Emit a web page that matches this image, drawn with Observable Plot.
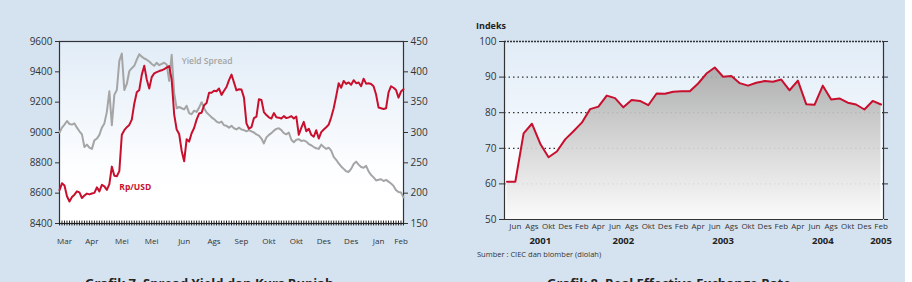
<!DOCTYPE html>
<html>
<head>
<meta charset="utf-8">
<script src="https://cdn.jsdelivr.net/npm/d3@7"></script>
<script src="https://cdn.jsdelivr.net/npm/@observablehq/plot@0.6"></script>
<style>
  html, body { margin: 0; padding: 0; background: #fff; }
  #page { position: relative; width: 912px; height: 282px; overflow: hidden; background: #fff; font-family: "Open Sans", sans-serif; }
  #panel { position: absolute; left: 0; top: 0; width: 905px; height: 282px; background: #d5e3f1; }
  #left { position: absolute; left: 0; top: 0; }
  #right { position: absolute; left: 460px; top: 0; }
  .t { position: absolute; white-space: nowrap; color: #222; line-height: 1; }
</style>
</head>
<body>
<div id="page">
  <div id="panel"></div>
  <div id="left"></div>
  <div id="right"></div>
  <div class="t" style="left:476px;top:21px;font-size:9px;font-weight:700;">Indeks</div>
  <div class="t" style="left:477px;top:251px;font-size:7.5px;color:#333;">Sumber : CIEC dan blomber (diolah)</div>
  <div class="t" style="left:85px;top:277px;font-size:13px;font-weight:700;">Grafik 7. Spread Yield dan Kurs Rupiah</div>
  <div class="t" style="left:547px;top:277px;font-size:13px;font-weight:700;">Grafik 8. Real Effective Exchange Rate</div>
</div>
<script>
// ---- Left chart: Rp/USD (left axis) and yield spread (right axis), trading days ----
const rupiah = [8620,8665,8650,8580,8545,8575,8590,8612,8605,8568,
  8585,8597,8592,8598,8602,8638,8612,8655,8645,8622,
  8660,8775,8715,8712,8745,8985,9015,9035,9050,9085,
  9190,9265,9280,9380,9440,9350,9290,9365,9390,9398,
  9405,9410,9418,9428,9438,9350,9120,9020,8990,8880,
  8810,8955,8940,8995,9030,9085,9125,9130,9180,9195,
  9262,9262,9275,9272,9290,9248,9275,9300,9345,9382,
  9330,9278,9285,9283,9230,9060,9025,9035,9095,9105,
  9220,9215,9135,9115,9100,9092,9128,9100,9098,9092,
  9108,9095,9100,9108,9092,9105,8985,9030,9070,9008,
  9025,8985,8972,9015,8960,9002,9020,9035,9052,9100,
  9160,9240,9325,9295,9340,9320,9330,9315,9345,9325,
  9330,9305,9355,9322,9325,9320,9305,9250,9165,9160,
  9155,9160,9265,9305,9295,9280,9230,9270,9285];

const yieldSpread = [300,308,313,319,314,313,315,308,302,297,
  276,280,275,273,287,290,296,308,315,334,
  368,312,362,370,418,430,370,380,401,406,
  410,420,429,425,422,420,417,413,410,415,
  411,413,415,412,385,428,365,340,342,340,
  338,344,332,330,336,334,341,350,340,333,
  329,325,322,318,316,318,312,311,308,311,
  307,305,308,305,304,302,304,302,300,297,
  295,290,282,292,296,299,303,306,307,304,
  299,297,300,288,284,288,289,286,287,285,
  281,279,276,274,273,280,276,273,275,270,
  260,255,249,244,240,236,235,240,248,252,
  247,243,242,245,236,230,226,221,222,223,
  220,222,219,216,212,205,202,201,193];

const dayMonthLabels = ["Mar","Apr","Mei","Mei","Jun","Ags","Sep","Okt","Okt","Des","Des","Jan","Feb"];
const dayMonthTicks = [2,13,25,37,50,62,73,84,95,106,117,128,137];
const rupiahTicks = [8400,8600,8800,9000,9200,9400,9600];
const spreadTicks = [150,200,250,300,350,400,450];

// spread is drawn on the rupiah scale: 150..450 maps onto 8400..9600
const toRupiah = v => 8400 + (v - 150) * 4;
const toSpread = r => (r - 8400) / 4 + 150;

const days = d3.range(rupiah.length);
const dayLabel = new Map(dayMonthTicks.map((t, i) => [t, dayMonthLabels[i]]));

const left = Plot.plot({
  width: 460, height: 282,
  marginLeft: 59, marginRight: 57, marginTop: 41, marginBottom: 59,
  x: {domain: [0, rupiah.length - 1]},
  y: {domain: [8400, 9600]},
  style: {background: "transparent", fontFamily: "Open Sans, sans-serif", color: "#333"},
  marks: [
    Plot.frame({fill: "url(#bgLeft)", stroke: "#333", strokeWidth: 1.2}),
    Plot.line(days, {x: d => d, y: d => toRupiah(yieldSpread[d]), stroke: "#a5a5a5", strokeWidth: 2}),
    Plot.line(days, {x: d => d, y: d => rupiah[d], stroke: "#c8102e", strokeWidth: 2}),
    Plot.ruleY([8400], {stroke: "#222", strokeWidth: 1}),
    Plot.ruleX(days, {x: d => d, y1: 8384, y2: 8416, stroke: "#222", strokeWidth: 1}),
    Plot.axisY({anchor: "left", ticks: rupiahTicks, tickFormat: d => String(d), tickSize: 4, tickPadding: 3, fontSize: 10, label: null}),
    Plot.axisY({anchor: "right", ticks: spreadTicks.map(toRupiah), tickFormat: d => String(toSpread(d)), tickSize: 4, tickPadding: 3, fontSize: 10, label: null}),
    Plot.axisX({ticks: dayMonthTicks, tickFormat: d => dayLabel.get(d), tickSize: 0, tickPadding: 15, fontSize: 8, label: null}),
    Plot.text(["Yield Spread"], {x: 49, y: toRupiah(417), text: d => d, textAnchor: "start", fill: "#a3a3a3", fontSize: 8.5, fontWeight: 600}),
    Plot.text(["Rp/USD"], {x: 24, y: 8638, text: d => d, textAnchor: "start", fill: "#c8102e", fontSize: 8.5, fontWeight: 700})
  ]
});
d3.select(left).insert("defs", ":first-child").html(
  `<linearGradient id="bgLeft" x1="0" y1="0" x2="0" y2="1">
     <stop offset="0" stop-color="#e1ecf7"/><stop offset="0.7" stop-color="#fdfeff"/><stop offset="1" stop-color="#ffffff"/>
   </linearGradient>`);
document.getElementById("left").appendChild(left);

// ---- Right chart: real effective exchange rate index, monthly May 2001 – Feb 2005 ----
const reer = [60.6,60.6,74.2,76.9,71.3,67.5,69.1,72.5,
  74.8,77.2,81.0,81.7,84.8,84.1,81.5,83.6,83.3,82.1,85.4,85.3,
  85.9,86.0,86.0,88.2,91.0,92.7,90.1,90.3,88.3,87.6,88.4,88.9,
  88.7,89.3,86.3,89.0,82.4,82.2,87.6,83.7,84.0,82.8,82.3,80.9,
  83.3,82.3];
const monthNames = ["Jun","Ags","Okt","Des","Feb","Apr","Jun","Ags","Okt","Des","Feb","Apr",
  "Jun","Ags","Okt","Des","Feb","Apr","Jun","Ags","Okt","Des","Feb"];
const monthTicks = monthNames.map((_, i) => 1 + 2 * i);
const yearNames = ["2001","2002","2003","2004","2005"];
const yearTicks = [4,14,26,38,45];
const indexTicks = [50,60,70,80,90,100];
const gridLevels = [60,70,80,90];

const months = d3.range(reer.length);
const monthLabel = new Map(monthTicks.map((t, i) => [t, monthNames[i]]));
const yearLabel = new Map(yearTicks.map((t, i) => [t, yearNames[i]]));

const right = Plot.plot({
  width: 452, height: 282,
  marginLeft: 44, marginRight: 29, marginTop: 41, marginBottom: 63,
  x: {domain: [-0.3, 45.3]},
  y: {domain: [50, 100]},
  style: {background: "transparent", fontFamily: "Open Sans, sans-serif", color: "#333"},
  marks: [
    Plot.frame({fill: "url(#bgRight)", stroke: null}),
    Plot.ruleY(gridLevels, {stroke: "#333", strokeWidth: 1.3, strokeDasharray: "1.5,3"}),
    Plot.areaY(months, {x: d => d, y1: 50, y2: d => reer[d], fill: "url(#areaRight)", fillOpacity: 0.92}),
    Plot.line(months, {x: d => d, y: d => reer[d], stroke: "#c8102e", strokeWidth: 2}),
    Plot.ruleY([100], {stroke: "#333", strokeWidth: 1.6, strokeDasharray: "2,1"}),
    Plot.ruleY([50], {stroke: "#333", strokeWidth: 1.2}),
    Plot.ruleX([-0.3, 45.3], {stroke: "#333", strokeWidth: 1.2}),
    Plot.axisY({anchor: "left", ticks: indexTicks, tickSize: 5, tickPadding: 3, fontSize: 10, label: null}),
    Plot.axisY({anchor: "right", ticks: indexTicks, tickFormat: () => "", tickSize: 4, label: null}),
    Plot.axisX({ticks: monthTicks, tickFormat: d => monthLabel.get(d), tickSize: 0, tickPadding: 4, fontSize: 8, label: null}),
    Plot.axisX({ticks: yearTicks, tickFormat: d => yearLabel.get(d), tickSize: 0, tickPadding: 18, fontSize: 9.5, fontWeight: 700, fill: "#222", label: null})
  ]
});
d3.select(right).insert("defs", ":first-child").html(
  `<linearGradient id="bgRight" x1="0" y1="0" x2="0" y2="1">
     <stop offset="0" stop-color="#e1ecf7"/><stop offset="0.75" stop-color="#fbfdff"/><stop offset="1" stop-color="#ffffff"/>
   </linearGradient>
   <linearGradient id="areaRight" x1="0" y1="0" x2="0" y2="1">
     <stop offset="0" stop-color="#a9a9a9"/><stop offset="0.45" stop-color="#cfcfcf"/><stop offset="1" stop-color="#fafafa"/>
   </linearGradient>`);
document.getElementById("right").appendChild(right);
</script>
</body>
</html>
